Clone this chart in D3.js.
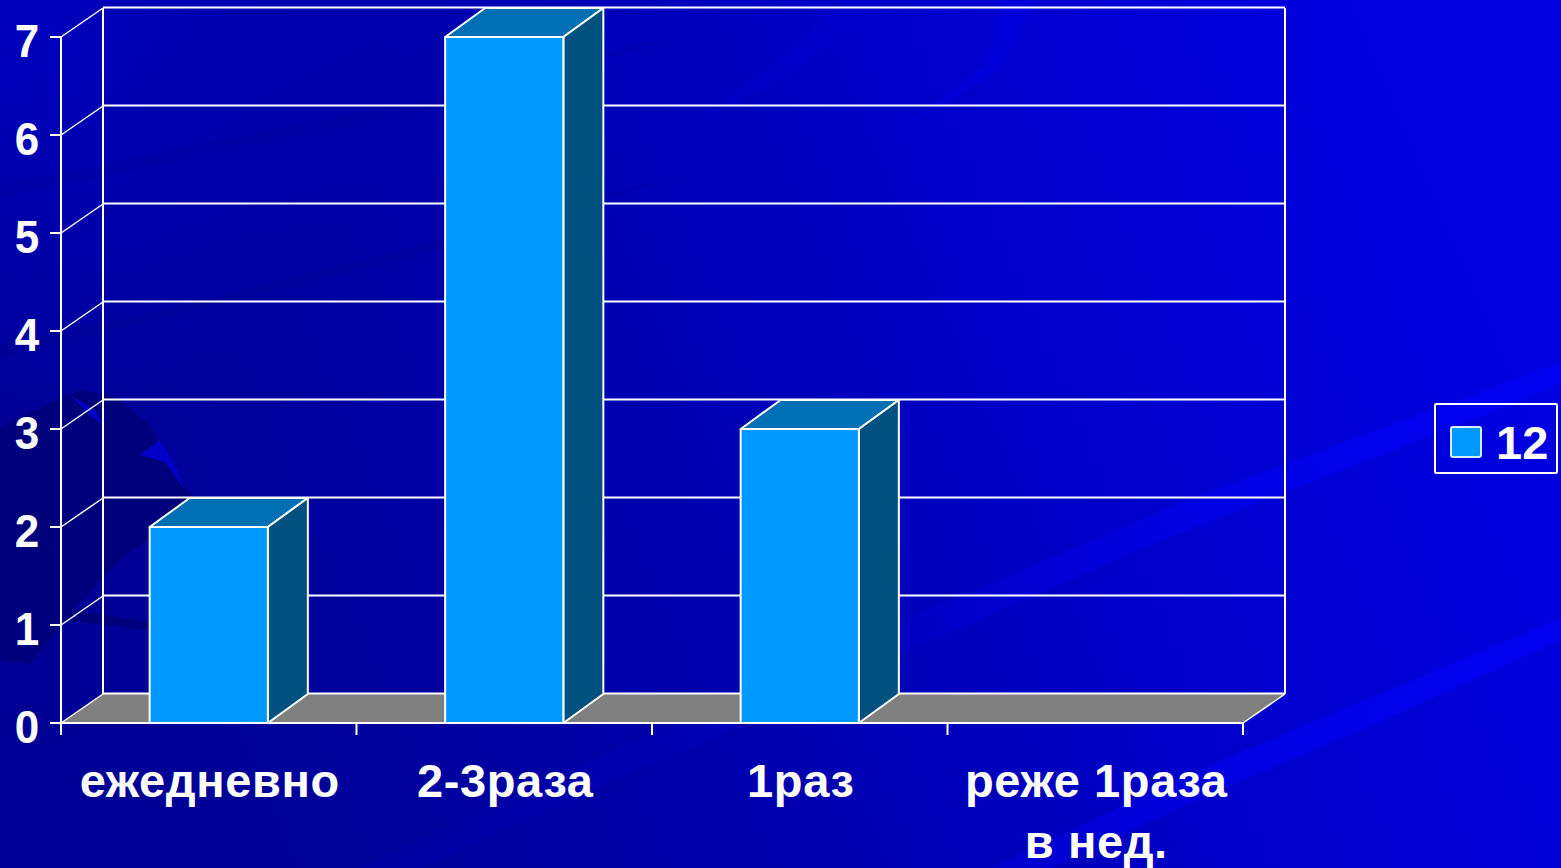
<!DOCTYPE html>
<html><head><meta charset="utf-8">
<style>html,body{margin:0;padding:0;background:#0000b0;overflow:hidden}svg{display:block}
text{font-family:"Liberation Sans",Arial,sans-serif;font-weight:bold;fill:#fff}</style>
<script src="https://d3js.org/d3.v7.min.js"></script></head><body>
<svg id="c" width="1561" height="868"></svg>
<script>
const categories=["ежедневно","2-3раза","1раз","реже 1раза"];
const categoryLines=[["ежедневно"],["2-3раза"],["1раз"],["реже 1раза","в нед."]];
const values=[2,7,3,0];
const yTicks=[0,1,2,3,4,5,6,7];
const seriesName="12";

const W=1561,H=868,depthX=42,depthY=-29,barDepthX=40;
const x=d3.scaleBand().domain(categories).range([61,1243]).paddingInner(0.6).paddingOuter(0.3);
const y=d3.scaleLinear().domain([0,7]).range([723,37]);
const x0=x.range()[0],x1=x.range()[1];
const svg=d3.select("#c");
const defs=svg.append("defs");
const g=defs.append("linearGradient").attr("id","bg").attr("gradientUnits","userSpaceOnUse")
 .attr("x1",0).attr("y1",700).attr("x2",1400).attr("y2",100);
[[0,"#000094"],[.25,"#00009e"],[.5,"#0000b4"],[.75,"#0000ce"],[1,"#0000e0"]].forEach(s=>g.append("stop").attr("offset",s[0]).attr("stop-color",s[1]));
const g2=defs.append("radialGradient").attr("id","tl").attr("gradientUnits","userSpaceOnUse").attr("cx",0).attr("cy",0).attr("r",420);
g2.append("stop").attr("offset",0).attr("stop-color","#0000c8").attr("stop-opacity",.8);
g2.append("stop").attr("offset",1).attr("stop-color","#0000c8").attr("stop-opacity",0);
const s1=defs.append("linearGradient").attr("id","streak").attr("gradientUnits","userSpaceOnUse").attr("x1",380).attr("y1",868).attr("x2",1561).attr("y2",362);
[[0,0.08],[.45,.14],[.68,.55],[1,1]].forEach(s=>s1.append("stop").attr("offset",s[0]).attr("stop-color","#0000f0").attr("stop-opacity",s[1]));
const s2=defs.append("linearGradient").attr("id","streak2").attr("gradientUnits","userSpaceOnUse").attr("x1",1000).attr("y1",868).attr("x2",1561).attr("y2",620);
[[0,0.35],[1,.95]].forEach(s=>s2.append("stop").attr("offset",s[0]).attr("stop-color","#0000f0").attr("stop-opacity",s[1]));

svg.append("rect").attr("width",W).attr("height",H).attr("fill","url(#bg)");
svg.append("rect").attr("width",W).attr("height",H).attr("fill","url(#tl)");
// background decoration
const deco=svg.append("g");
[["M1561 362L1561 385L1150 545L820 690L420 868L360 868L820 655L1200 495Z","url(#streak)",1],
 ["M1561 618L1561 640L1380 722L1220 790L1050 868L990 868L1210 765Z","url(#streak2)",1],
 ["M0 185L420 100L700 30L400 118L0 196Z","#000090",.22],
 ["M0 345L200 302L500 225L700 170L420 255L0 358Z","#000088",.25],
 ["M680 130L780 60L845 0L880 0L790 75Z","#0000d4",.35],
 ["M900 130L985 65L1005 0L1035 0L1000 70Z","#0000ec",.35]
].forEach(d=>deco.append("path").attr("d",d[0]).attr("fill",d[1]).attr("opacity",d[2]));
deco.append("path").attr("d","M0 428L30 412L80 390L115 396L150 425L172 470L192 495L160 530L120 560L78 605L40 652L30 664L0 660Z").attr("fill","#00007c");
deco.append("path").attr("d","M140 455L160 440L175 465L185 490L165 462Z M70 395L95 410L103 425L90 415Z").attr("fill","#0000c8");
deco.append("path").attr("d","M40 605L150 622L150 630L40 618Z").attr("fill","#00007c");

const line="#ffffff";
// floor
const floor=d3.line();
svg.append("path").attr("d",floor([[x0,y(0)],[x0+depthX,y(0)+depthY],[x1+depthX,y(0)+depthY],[x1,y(0)]])+"Z").attr("fill","#808080");
// walls and gridlines
svg.append("g").selectAll("line").data(yTicks).join("line")
 .attr("x1",x0+depthX).attr("x2",x1+depthX).attr("y1",d=>y(d)+depthY-0.5).attr("y2",d=>y(d)+depthY-0.5)
 .attr("stroke",line).attr("stroke-width",2);
svg.append("g").selectAll("line").data(yTicks).join("line")
 .attr("x1",x0).attr("x2",x0+depthX).attr("y1",d=>y(d)).attr("y2",d=>y(d)+depthY)
 .attr("stroke",line).attr("stroke-width",1.5);
[x0+depthX,x1+depthX].forEach(a=>svg.append("line").attr("x1",a).attr("x2",a).attr("y1",y(7)+depthY).attr("y2",y(0)+depthY).attr("stroke",line).attr("stroke-width",2));
svg.append("line").attr("x1",x1).attr("x2",x1+depthX).attr("y1",y(0)).attr("y2",y(0)+depthY).attr("stroke",line).attr("stroke-width",1.5);

// bars
const bars=svg.append("g").selectAll("g").data(categories.map((c,i)=>({c,v:values[i]})).filter(d=>d.v>0)).join("g")
 .attr("stroke",line).attr("stroke-width",2).attr("stroke-linejoin","round");
bars.append("path").attr("fill","#006fb4").attr("d",d=>{const a=x(d.c),b=a+x.bandwidth(),t=y(d.v);
 return floor([[a,t],[a+barDepthX,t+depthY],[b+barDepthX,t+depthY],[b,t]])+"Z"});
bars.append("path").attr("fill","#005180").attr("d",d=>{const b=x(d.c)+x.bandwidth(),t=y(d.v);
 return floor([[b,t],[b+barDepthX,t+depthY],[b+barDepthX,y(0)+depthY],[b,y(0)]])+"Z"});
bars.append("rect").attr("fill","#0099ff").attr("x",d=>x(d.c)).attr("y",d=>y(d.v)).attr("width",x.bandwidth()).attr("height",d=>y(0)-y(d.v));

// axes
svg.append("line").attr("x1",x0).attr("x2",x0).attr("y1",y(7)).attr("y2",735).attr("stroke",line).attr("stroke-width",2);
svg.append("line").attr("x1",x0).attr("x2",x1).attr("y1",y(0)).attr("y2",y(0)).attr("stroke",line).attr("stroke-width",2);
svg.append("g").selectAll("line").data(yTicks).join("line").attr("x1",50).attr("x2",x0).attr("y1",d=>y(d)).attr("y2",d=>y(d)).attr("stroke",line).attr("stroke-width",2);
const edges=categories.map(c=>x(c)-x.step()*0.3).concat([x1]);
svg.append("g").selectAll("line").data(edges).join("line").attr("x1",d=>d).attr("x2",d=>d).attr("y1",y(0)).attr("y2",735).attr("stroke",line).attr("stroke-width",2);

// tick labels
svg.append("g").selectAll("text").data(yTicks).join("text").text(d=>d)
 .attr("text-anchor","middle").attr("font-size",44)
 .attr("transform",d=>`translate(27,${y(d)+20}) scale(1,1.07)`);
const catG=svg.append("g").selectAll("g").data(categories).join("g")
 .attr("transform",c=>`translate(${x(c)+x.bandwidth()/2+1},0)`);
catG.selectAll("text").data((c,i)=>categoryLines[i]).join("text").text(d=>d)
 .attr("text-anchor","middle").attr("font-size",47).attr("letter-spacing",0.6)
 .attr("y",(d,i)=>797+i*61);

// legend
const lg=svg.append("g");
lg.append("rect").attr("x",1435).attr("y",404).attr("width",122).attr("height",69).attr("fill","none").attr("stroke",line).attr("stroke-width",2).attr("rx",1);
lg.append("rect").attr("x",1451).attr("y",427).attr("width",30).attr("height",30).attr("fill","#0099ff").attr("stroke","#d8ecff").attr("stroke-width",2).attr("rx",2);
lg.append("text").text(seriesName).attr("font-size",47).attr("x",1496).attr("y",459);
</script></body></html>
